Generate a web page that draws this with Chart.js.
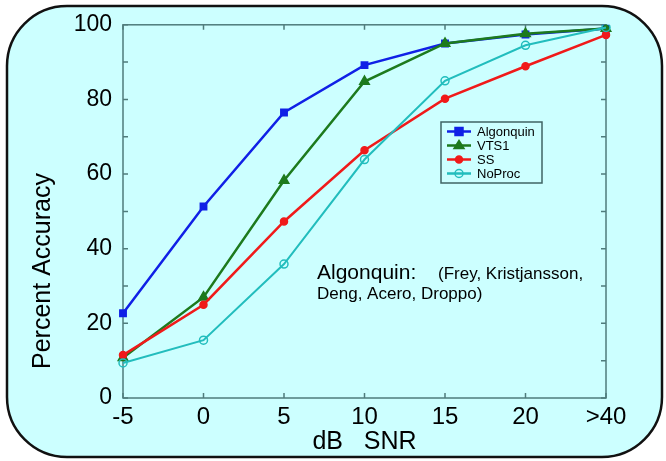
<!DOCTYPE html>
<html>
<head>
<meta charset="utf-8">
<script src="https://cdn.jsdelivr.net/npm/chart.js@4"></script>
<style>
  html, body { margin: 0; padding: 0; background: #fff; }
  #chart { display: block; }
</style>
</head>
<body>
<canvas id="chart" width="666" height="461"></canvas>
<script>
const snrLabels = ['-5', '0', '5', '10', '15', '20', '>40'];
const algonquin = [22.7, 51.3, 76.5, 89.2, 95, 97.4, 99];
const vts1 = [10.8, 27, 58.3, 84.8, 95, 97.6, 99];
const ss = [11.5, 25, 47.3, 66.4, 80.2, 88.9, 97.3];
const noProc = [9.4, 15.5, 35.9, 63.9, 85, 94.5, 99.3];

const FONT = 'Arial, "Liberation Sans", sans-serif';
const frameColor = '#4f7c7c';

// slide background, frame with inward ticks, y title, legend, note
const decor = {
    id: 'decor',
    beforeDraw(chart) {
        const ctx = chart.ctx;
        ctx.save();
        ctx.fillStyle = '#ffffff';
        ctx.fillRect(0, 0, chart.width, chart.height);
        ctx.beginPath();
        ctx.roundRect(7, 6, 655, 451, 60);
        ctx.fillStyle = '#ccffff';
        ctx.fill();
        ctx.lineWidth = 2.5;
        ctx.strokeStyle = '#111';
        ctx.stroke();
        ctx.restore();
    },
    beforeDatasetsDraw(chart) {
        const { ctx, chartArea: a, scales: { x, y } } = chart;
        ctx.save();
        ctx.strokeStyle = frameColor;
        ctx.lineWidth = 1.5;
        ctx.strokeRect(a.left, a.top, a.right - a.left, a.bottom - a.top);
        ctx.beginPath();
        x.ticks.forEach((t, i) => {
            const px = x.getPixelForTick(i);
            ctx.moveTo(px, a.bottom); ctx.lineTo(px, a.bottom - 5);
            ctx.moveTo(px, a.top); ctx.lineTo(px, a.top + 5);
        });
        y.ticks.forEach((t) => {
            const py = y.getPixelForValue(t.value);
            ctx.moveTo(a.left, py); ctx.lineTo(a.left + 5, py);
            ctx.moveTo(a.right, py); ctx.lineTo(a.right - 5, py);
        });
        ctx.stroke();
        ctx.restore();
    },
    afterDraw(chart) {
        const ctx = chart.ctx;
        ctx.save();

        // y axis title, sits lower than the middle of the axis
        ctx.translate(43, 271);
        ctx.rotate(-Math.PI / 2);
        ctx.fillStyle = '#000';
        ctx.font = '25px ' + FONT;
        ctx.textAlign = 'center';
        ctx.textBaseline = 'middle';
        ctx.fillText('Percent Accuracy', 0, 0);
        ctx.setTransform(1, 0, 0, 1, 0, 0);

        // legend
        const lx = 441, ly = 122, lw = 101, lh = 61;
        ctx.fillStyle = '#ccffff';
        ctx.fillRect(lx, ly, lw, lh);
        ctx.strokeStyle = '#3f6464';
        ctx.lineWidth = 1.5;
        ctx.strokeRect(lx, ly, lw, lh);
        chart.data.datasets.forEach((ds, i) => {
            const cy = ly + 9.5 + i * 14;
            ctx.strokeStyle = ds.borderColor;
            ctx.lineWidth = 2.5;
            ctx.beginPath();
            ctx.moveTo(lx + 6, cy); ctx.lineTo(lx + 30, cy);
            ctx.stroke();
            ctx.fillStyle = ds.pointBackgroundColor;
            ctx.lineWidth = ds.pointBorderWidth;
            ctx.beginPath();
            if (ds.pointStyle === 'rect') {
                ctx.rect(lx + 14, cy - 4, 8, 8);
            } else if (ds.pointStyle === 'triangle') {
                ctx.moveTo(lx + 18, cy - 5); ctx.lineTo(lx + 23, cy + 3); ctx.lineTo(lx + 13, cy + 3); ctx.closePath();
            } else {
                ctx.arc(lx + 18, cy, ds.pointRadius, 0, Math.PI * 2);
            }
            ctx.fill();
            ctx.stroke();
            ctx.fillStyle = '#000';
            ctx.font = '13px ' + FONT;
            ctx.textAlign = 'left';
            ctx.textBaseline = 'middle';
            ctx.fillText(ds.label, lx + 36, cy + 0.5);
        });

        // citation note
        ctx.fillStyle = '#000';
        ctx.textAlign = 'left';
        ctx.textBaseline = 'alphabetic';
        ctx.font = '21px ' + FONT;
        ctx.fillText('Algonquin:', 317, 279);
        ctx.font = '17px ' + FONT;
        ctx.fillText('(Frey, Kristjansson,', 438, 279);
        ctx.fillText('Deng, Acero, Droppo)', 317, 299);
        ctx.restore();
    }
};

function series(label, data, color, style, radius, fill, width, order) {
    return {
        label: label,
        data: data,
        borderColor: color,
        backgroundColor: color,
        borderWidth: width,
        pointStyle: style,
        pointRadius: radius,
        pointBackgroundColor: fill,
        pointBorderColor: color,
        pointBorderWidth: 1.5,
        tension: 0,
        order: order
    };
}

new Chart(document.getElementById('chart'), {
    type: 'line',
    data: {
        labels: snrLabels,
        datasets: [
            series('Algonquin', algonquin, '#1020e6', 'rect', 4.5, '#1020e6', 2.5, 3),
            series('VTS1', vts1, '#1d7a1d', 'triangle', 5.5, '#1d7a1d', 2.5, 2),
            series('SS', ss, '#f01a1a', 'circle', 3.5, '#f01a1a', 2.5, 1),
            series('NoProc', noProc, '#22bdbd', 'circle', 4, 'rgba(0,0,0,0)', 2, 0)
        ]
    },
    options: {
        responsive: false,
        animation: false,
        layout: { padding: { left: 0, right: 60, top: 23, bottom: 0 } },
        plugins: {
            legend: { display: false },
            tooltip: { enabled: false }
        },
        scales: {
            x: {
                type: 'category',
                offset: false,
                grid: { display: false, drawTicks: false },
                border: { display: false },
                ticks: {
                    color: '#000',
                    font: { family: FONT, size: 24 },
                    padding: 5,
                    maxRotation: 0,
                    autoSkip: false
                },
                title: {
                    display: true,
                    text: 'dB   SNR',
                    color: '#000',
                    font: { family: FONT, size: 25 },
                    padding: { top: 0, bottom: 4 }
                },
                afterFit(scale) { scale.height = 63; }
            },
            y: {
                min: 0,
                max: 100,
                grid: { display: false, drawTicks: false },
                border: { display: false },
                ticks: {
                    stepSize: 10,
                    color: '#000',
                    font: { family: FONT, size: 23 },
                    padding: 11,
                    callback: (v) => (v % 20 === 0 ? v : '')
                },
                afterFit(scale) { scale.width = 123; }
            }
        }
    },
    plugins: [decor]
});
</script>
</body>
</html>
